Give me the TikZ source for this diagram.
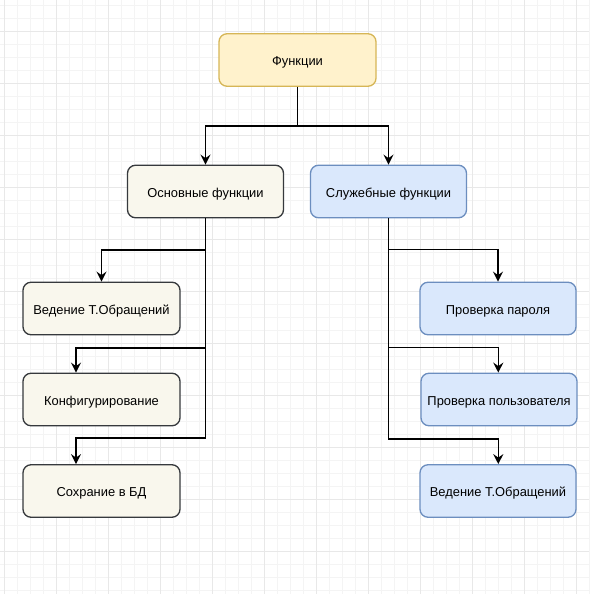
\documentclass[tikz,border=0pt]{standalone}
\usepackage{fontspec}
\setmainfont{Liberation Sans}
\usetikzlibrary{arrows.meta}
\definecolor{yfill}{HTML}{FFF2CC}
\definecolor{ydraw}{HTML}{D6B656}
\definecolor{gfill}{HTML}{F9F7ED}
\definecolor{gdraw}{HTML}{36393D}
\definecolor{bfill}{HTML}{DAE8FC}
\definecolor{bdraw}{HTML}{6C8EBF}
\definecolor{gridminor}{HTML}{F4F4F4}
\definecolor{gridmajor}{HTML}{E8E8E8}
\tikzset{
  box/.style={rectangle, rounded corners=8pt, line width=1.3pt,
    minimum height=52.5pt, inner sep=0pt, text height=11pt, text depth=0pt,
    font=\fontsize{12.9}{15}\selectfont},
  ybox/.style={box, fill=yfill, draw=ydraw},
  gbox/.style={box, fill=gfill, draw=gdraw},
  bbox/.style={box, fill=bfill, draw=bdraw},
  arr/.style={line width=1.4pt, -{Stealth[length=10pt,width=10pt,inset=3.5pt]}},
}
\begin{document}
\begin{tikzpicture}[x=1pt,y=-1pt]
\useasboundingbox (0,0) rectangle (589,594);
\fill[white] (0,0) rectangle (589,594);
% grid
\foreach \i in {-1,...,45} {
  \draw[gridminor, line width=0.8pt] ({4+13*\i},0) -- ({4+13*\i},594);
  \draw[gridminor, line width=0.8pt] (0,{5.3+13*\i}) -- (589,{5.3+13*\i});
}
\foreach \i in {0,...,12} {
  \draw[gridmajor, line width=1pt] ({4+52*\i},0) -- ({4+52*\i},594);
  \draw[gridmajor, line width=1pt] (0,{-20.7+52*\i}) -- (589,{-20.7+52*\i});
}
% nodes
\node[ybox, minimum width=157pt] (f) at (297.5,60) {Функции};
\node[gbox, minimum width=156pt] (osn) at (205.5,191.5) {Основные функции};
\node[bbox, minimum width=156pt] (sl) at (388.5,191.5) {Служебные функции};
\node[gbox, minimum width=157pt] (l1) at (101.5,308.5) {Ведение Т.Обращений};
\node[gbox, minimum width=157pt] (l2) at (101.5,399.5) {Конфигурирование};
\node[gbox, minimum width=157pt] (l3) at (101.5,491) {Сохрание в БД};
\node[bbox, minimum width=156pt] (r1) at (498,308.5) {Проверка пароля};
\node[bbox, minimum width=156pt] (r2) at (499,399.5) {Проверка пользователя};
\node[bbox, minimum width=156pt] (r3) at (498,491) {Ведение Т.Обращений};
% connectors
\coordinate (j) at (297.5,126);
\draw[arr] (f.south) -- (j) -| (osn.north);
\draw[arr] (f.south) -- (j) -| (sl.north);
\draw[arr] (osn.south) -- (osn.south |- 0,250) -| (l1.north);
\draw[arr] (osn.south) -- (osn.south |- 0,348) -| ([xshift=-25.5pt]l2.north);
\draw[arr] (osn.south) -- (osn.south |- 0,438) -| ([xshift=-25.5pt]l3.north);
\draw[arr] (sl.south) -- (sl.south |- 0,249.5) -| (r1.north);
\draw[arr] (sl.south) -- (sl.south |- 0,347.5) -| ([xshift=-0.7pt]r2.north);
\draw[arr] (sl.south) -- (sl.south |- 0,439) -| ([xshift=0.3pt]r3.north);
\end{tikzpicture}
\end{document}
